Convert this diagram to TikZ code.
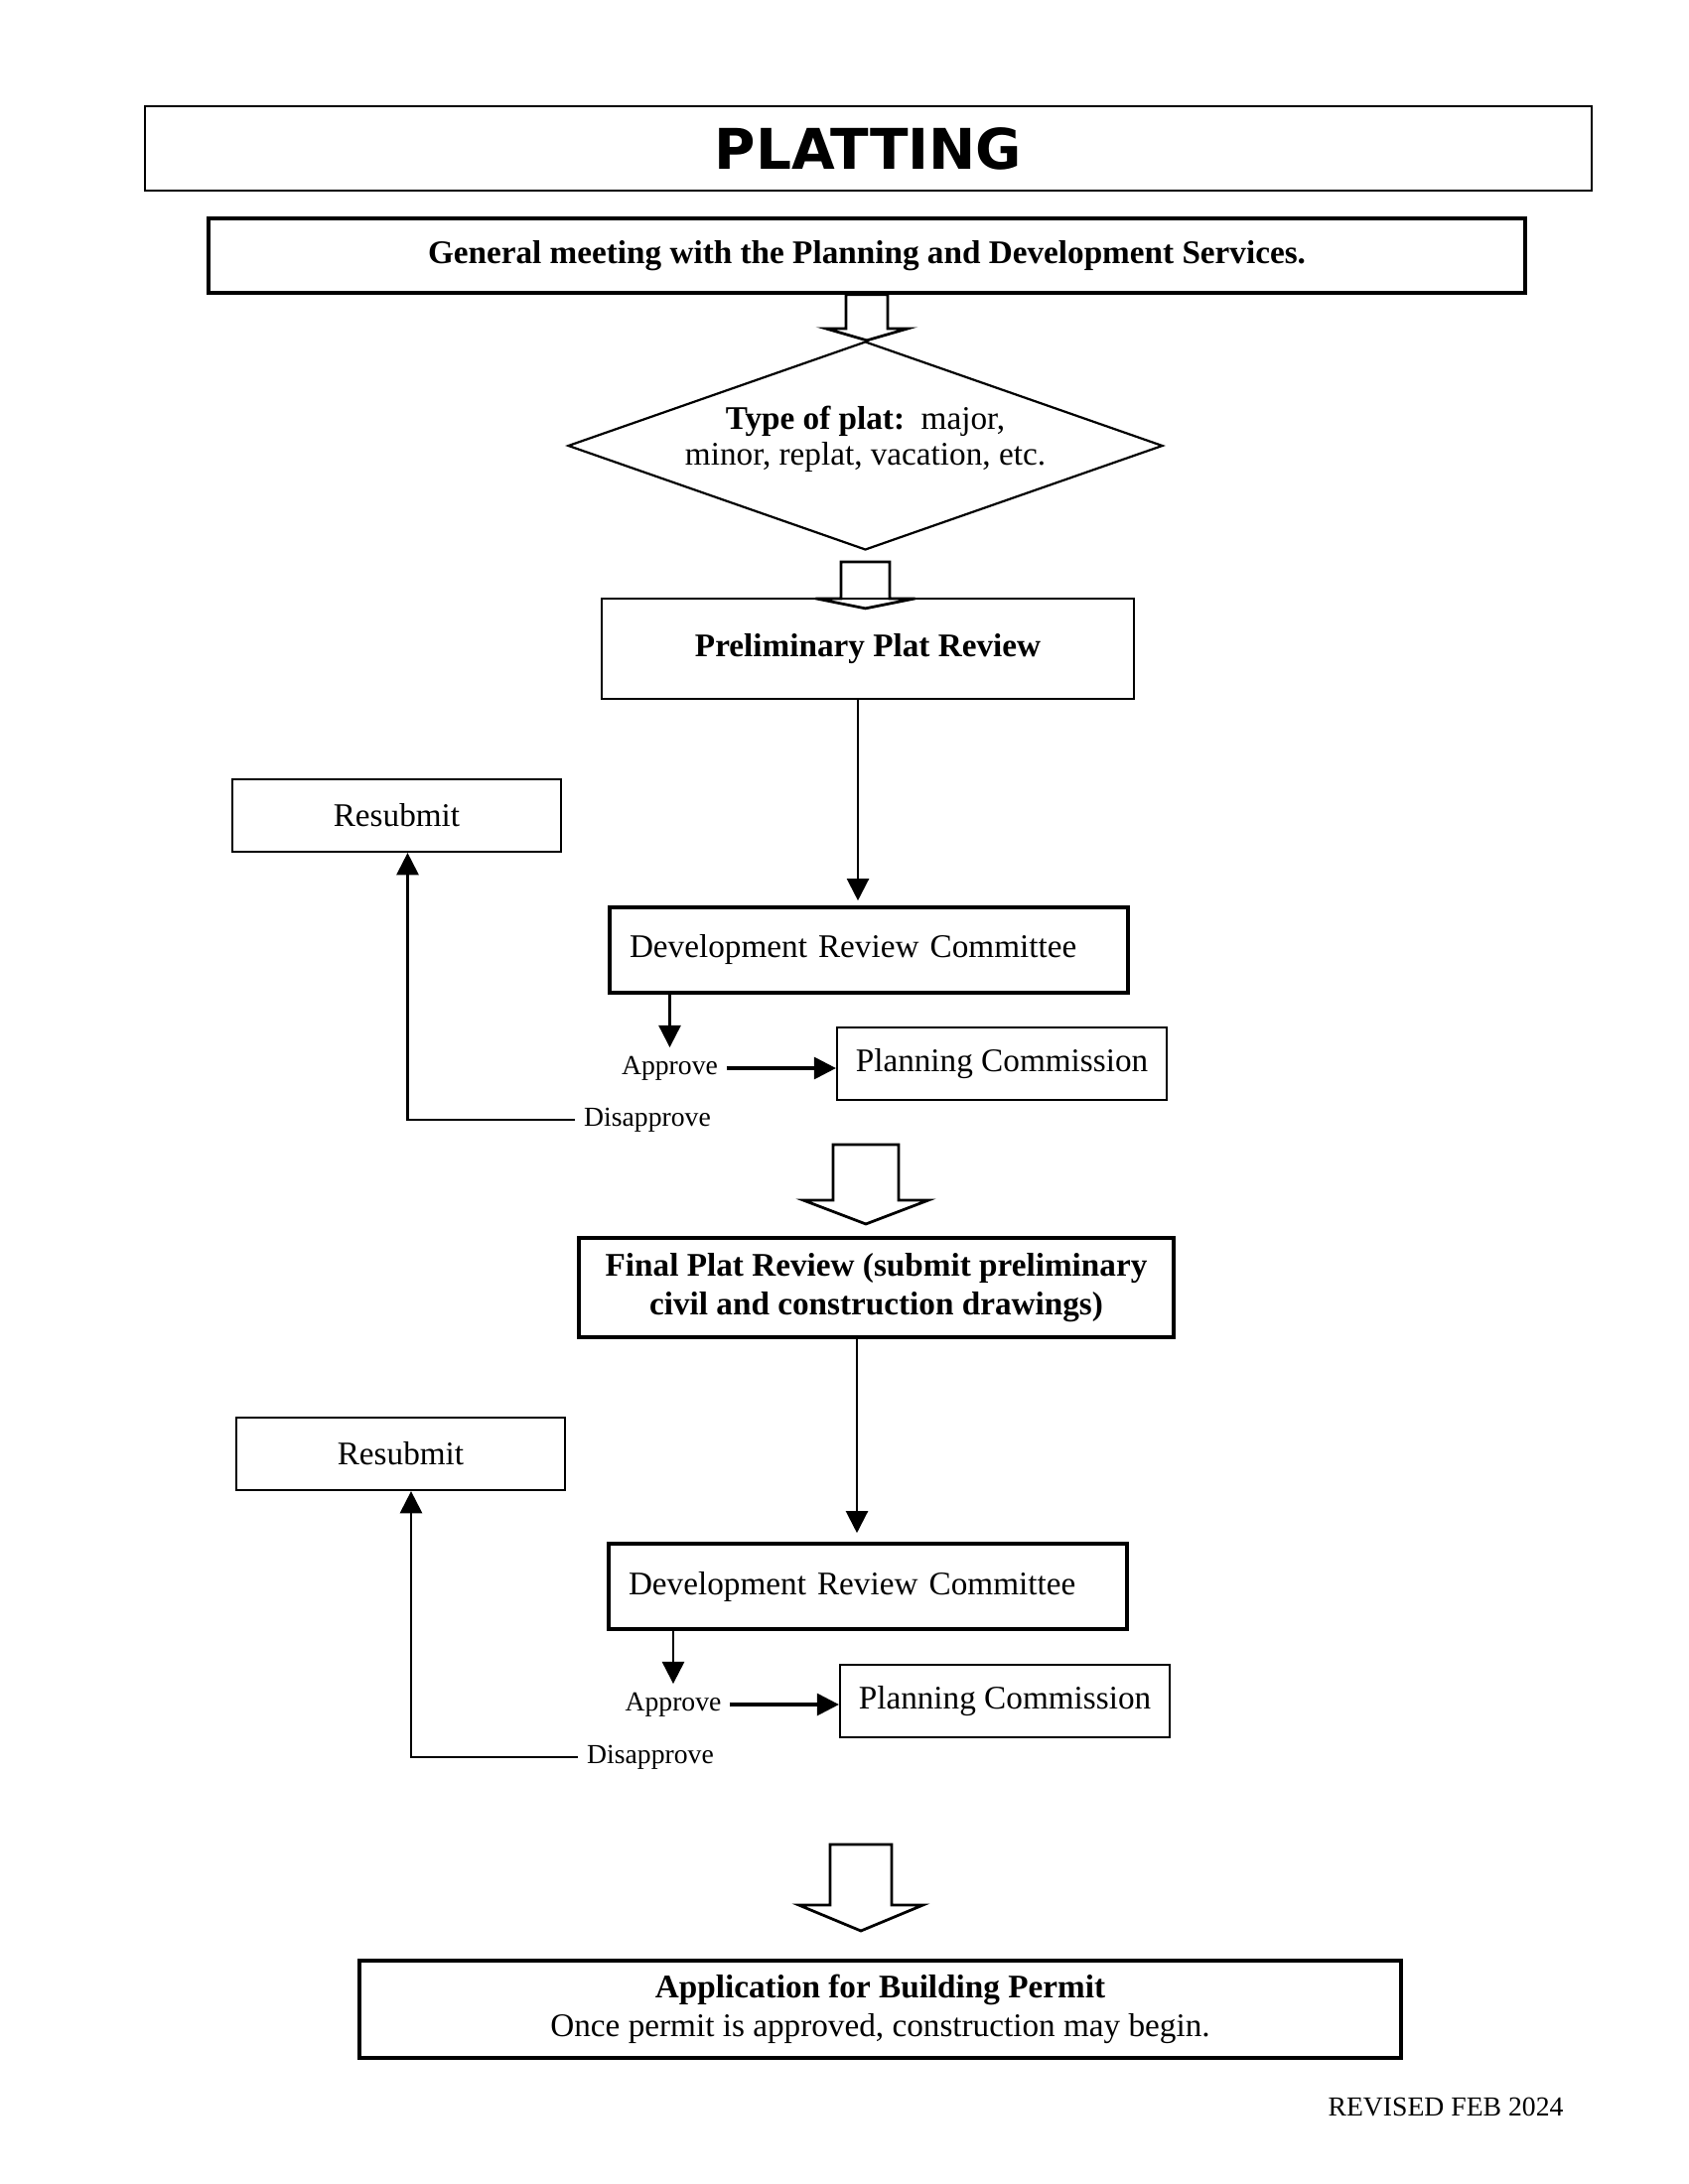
\documentclass[tikz,border=0pt]{standalone}
\usepackage{fontspec}
\setmainfont{Liberation Serif}
\newfontfamily\headfont{DejaVu Sans}
\usetikzlibrary{shapes.geometric,arrows.meta,calc}

\def\pxl{0.0127cm}
% hollow block arrow: start, end, shaft half width, head half width, head length
\newcommand{\hollowarrow}[5]{%
	\path (#1) coordinate (ha) (#1 |- #2) coordinate (hb);
	\draw[line width=1pt] ($(ha)+(-#3,0)$) -- ($(hb)+(-#3,-#5)$) -- ($(hb)+(-#4,-#5)$) -- (hb)
		-- ($(hb)+(#4,-#5)$) -- ($(hb)+(#3,-#5)$) -- ($(ha)+(#3,0)$) -- cycle;}

\begin{document}
\begin{tikzpicture}[x=\pxl,y=-\pxl,
		box/.style={draw,line width=0.8pt,inner sep=0pt,align=center,font=\fontsize{12}{14}\selectfont},
		heavybox/.style={box,line width=1.3pt},
		lbl/.style={font=\fontsize{10}{12}\selectfont,inner sep=3pt},
		arr/.style={line width=0.8pt,-{Triangle[length=8pt,width=8pt]}}]
	\useasboundingbox (0,0) rectangle (1700,2200);
	
	\node[box,minimum width=1457*\pxl,minimum height=85*\pxl] (title) at (874.5,149.5)
		{\headfont\bfseries\fontsize{20.4}{24}\selectfont PLATTING};
	\node[heavybox,minimum width=1326*\pxl,minimum height=75*\pxl] (meet) at (873,257.5)
		{\textbf{General meeting with the Planning and Development Services.}};
	\node[box,diamond,minimum width=599*\pxl,minimum height=210*\pxl] (plat) at (871.5,449) {};
	\node[box,draw=none,font=\fontsize{12}{13}\selectfont] (plattext) at ([yshift=7*\pxl]plat.center)
		{\textbf{Type of plat:}\ \ major,\\ minor, replat, vacation, etc.};
	\node[box,minimum width=536*\pxl,minimum height=101*\pxl] (prelim) at (874,653.5)
		{\textbf{Preliminary Plat Review}};
	
	% first review
	\node[heavybox,minimum width=522*\pxl,minimum height=86*\pxl,text width=482*\pxl,align=left] (drcA) at (875,957)
		{Development Review Committee};
	\node[box,minimum width=331*\pxl,minimum height=73*\pxl] (resA) at (399.5,821.5) {Resubmit};
	\node[box,minimum width=332*\pxl,minimum height=73*\pxl] (pcA) at (1009,1071.5) {Planning Commission};
	\node[lbl] (apA) at (674.5,1076) {Approve};
	\node[lbl] (disA) at (652,1128) {Disapprove};
	
	\node[heavybox,minimum width=599*\pxl,minimum height=100*\pxl] (final) at (882.5,1297)
		{\textbf{Final Plat Review (submit preliminary}\\\textbf{civil and construction drawings)}};
	
	% second review
	\node[heavybox,minimum width=522*\pxl,minimum height=86*\pxl,text width=482*\pxl,align=left] (drcB) at (874,1598)
		{Development Review Committee};
	\node[box,minimum width=331*\pxl,minimum height=73*\pxl] (resB) at (403.5,1464.5) {Resubmit};
	\node[box,minimum width=332*\pxl,minimum height=73*\pxl] (pcB) at (1012,1713.5) {Planning Commission};
	\node[lbl] (apB) at (678,1717) {Approve};
	\node[lbl] (disB) at (655,1770) {Disapprove};
	
	\node[heavybox,minimum width=1049*\pxl,minimum height=98*\pxl] (app) at (886.5,2024)
		{\textbf{Application for Building Permit}\\Once permit is approved, construction may begin.};
	\node[lbl,inner sep=0pt] (rev) at (1456,2122) {REVISED FEB 2024};
	
	\coordinate (arrCtop) at (872,1153);
	\coordinate (arrCtip) at (872,1233);
	\coordinate (arrDtop) at (867,1858);
	\coordinate (arrDtip) at (867,1945);
	\coordinate (dropA) at ([xshift=-10*\pxl]prelim.south);
	\coordinate (dropB) at ([xshift=-19.5*\pxl]final.south);
	
	\hollowarrow{meet.south}{plat.north}{21}{41.5}{12}
	\hollowarrow{[yshift=-11*\pxl]plat.south}{prelim.north}{24.5}{50}{10}
	\hollowarrow{arrCtop}{arrCtip}{33}{63}{24}
	\hollowarrow{arrDtop}{arrDtip}{31}{62.5}{26}
	
	\draw[arr,shorten >=5*\pxl] (dropA) -- (dropA |- drcA.north);
	\draw[arr] (drcA.south -| apA.north) -- (apA.north);
	\draw[arr,line width=1.1pt] (apA.east) -- (apA.east -| pcA.west);
	\draw[arr] (disA.west) -| ([xshift=11*\pxl]resA.south);
	
	\draw[arr,shorten >=9*\pxl] (dropB) -- (dropB |- drcB.north);
	\draw[arr] (drcB.south -| apB.north) -- (apB.north);
	\draw[arr,line width=1.1pt] (apB.east) -- (apB.east -| pcB.west);
	\draw[arr] (disB.west) -| ([xshift=10.5*\pxl]resB.south);
\end{tikzpicture}
\end{document}
